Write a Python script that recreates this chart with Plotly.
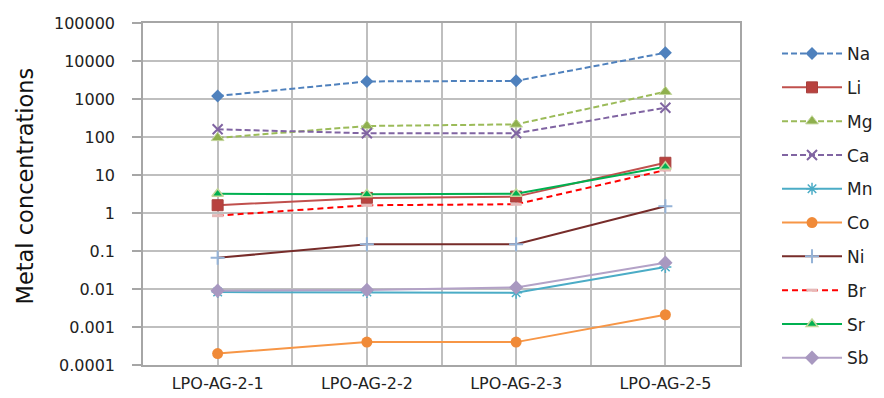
import plotly.graph_objects as go

samples = ["LPO-AG-2-1", "LPO-AG-2-2", "LPO-AG-2-3", "LPO-AG-2-5"]

Na = [1200, 2900, 3000, 16500]
Li = [1.6, 2.5, 2.7, 21]
Mg = [95, 195, 215, 1550]
Ca = [160, 125, 125, 590]
Mn = [0.0083, 0.0083, 0.008, 0.038]
Co = [0.0002, 0.0004, 0.0004, 0.0021]
Ni = [0.066, 0.15, 0.15, 1.5]
Br = [0.85, 1.6, 1.7, 13.5]
Sr = [3.2, 3.1, 3.2, 16.5]
Sb = [0.009, 0.0094, 0.011, 0.049]

tick_vals = [0.0001, 0.001, 0.01, 0.1, 1, 10, 100, 1000, 10000, 100000]
tick_text = ["0.0001", "0.001", "0.01", "0.1", "1", "10", "100", "1000", "10000", "100000"]

series = [
    ("Na", Na, "#4F81BD", "6px,3px", dict(symbol="diamond", size=10, color="#4F81BD")),
    ("Li", Li, "#C0504D", "solid", dict(symbol="square", size=11, color="#B8423F", line=dict(color="#A8403D", width=1))),
    ("Mg", Mg, "#9BBB59", "6px,3px", dict(symbol="triangle-up", size=11, color="#8FB04E", line=dict(color="#C3D69B", width=1))),
    ("Ca", Ca, "#8064A2", "6px,3px", dict(symbol="x-thin-open", size=10, color="#8064A2", line=dict(color="#8064A2", width=2))),
    ("Mn", Mn, "#4BACC6", "solid", dict(symbol="asterisk-open", size=10, color="#4BACC6", line=dict(color="#4BACC6", width=1.5))),
    ("Co", Co, "#F79646", "solid", dict(symbol="circle", size=11, color="#F08A38")),
    ("Ni", Ni, "#772C2A", "solid", dict(symbol="cross-thin-open", size=10, color="#95B3D7", line=dict(color="#95B3D7", width=2))),
    ("Br", Br, "#FF0000", "6px,4px", dict(symbol="line-ew-open", size=8, color="#E6B9B8", line=dict(color="#E6B9B8", width=3))),
    ("Sr", Sr, "#00B050", "solid", dict(symbol="triangle-up", size=10, color="#00B050", line=dict(color="#C3D69B", width=1.5))),
    ("Sb", Sb, "#B3A2C7", "solid", dict(symbol="diamond", size=11, color="#A898C0")),
]

fig = go.Figure()
xs = list(range(len(samples)))
for i, (name, vals, col, dash, mk) in enumerate(series):
    fig.add_trace(go.Scatter(
        x=xs, y=vals, name=name, mode="lines+markers",
        line=dict(color=col, width=2, dash=dash),
        marker=mk, legendgroup=name,
    ))

grid = "#BFBFBF"
fig.update_layout(
    width=876, height=390,
    margin=dict(l=135, r=144, t=15, b=33, autoexpand=False),
    paper_bgcolor="white", plot_bgcolor="white",
    font=dict(family="DejaVu Sans", color="#222222"),
    showlegend=True,
    legend=dict(
        x=1.062, y=0.962, xanchor="left", yanchor="top",
        font=dict(size=17, color="#222222"),
        itemwidth=60, traceorder="grouped", tracegroupgap=8.7,
        bgcolor="rgba(0,0,0,0)",
    ),
    xaxis=dict(
        range=[-0.5, 3.5], tickvals=xs, ticktext=samples,
        showgrid=True, gridcolor=grid, gridwidth=1.5,
        minor=dict(dtick=0.5, tick0=-0.5, showgrid=True, gridcolor=grid, gridwidth=1.5),
        showline=True, linecolor="#A6A6A6", linewidth=1.5, mirror=True,
        ticks="", ticklabelstandoff=3,
        tickfont=dict(size=16, color="#222222"), zeroline=False,
    ),
    yaxis=dict(
        type="log", range=[-4, 5], tickvals=tick_vals, ticktext=tick_text,
        showgrid=True, gridcolor=grid, gridwidth=1.5,
        showline=True, linecolor="#A6A6A6", linewidth=1.5, mirror=True,
        ticks="outside", ticklen=9, tickcolor="#A6A6A6", tickwidth=1.5,
        ticklabelstandoff=14,
        tickfont=dict(size=16, color="#222222"), zeroline=False,
    ),
    annotations=[dict(
        text="Metal concentrations", xref="paper", yref="paper",
        x=-0.197, y=0.523, xanchor="center", yanchor="middle",
        textangle=-90, showarrow=False, borderpad=0,
        font=dict(size=22.5, color="#111111", family="DejaVu Sans"),
    )],
)

fig.write_html("out.html")
